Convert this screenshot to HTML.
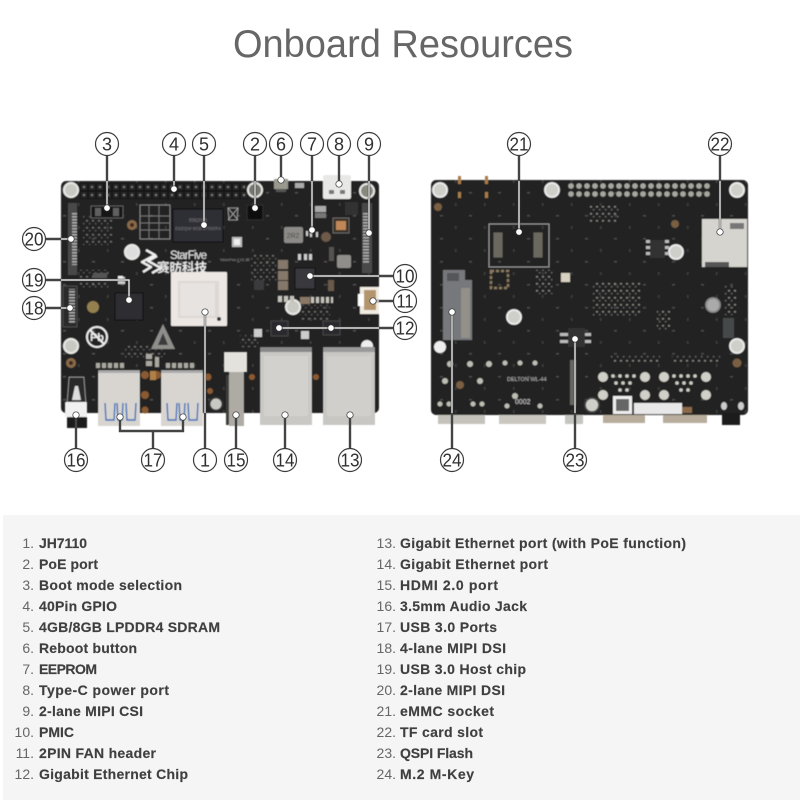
<!DOCTYPE html>
<html><head><meta charset="utf-8"><title>Onboard Resources</title>
<style>
html,body{margin:0;padding:0;background:#fff;width:800px;height:800px;overflow:hidden}
svg{display:block}
.n{font:18px "Liberation Sans",sans-serif;fill:#2f2f2f;text-anchor:middle}
.li{font:14px "Liberation Sans",sans-serif}
.li .a{fill:#666;text-anchor:end}
.li .b{fill:#3f3f3f;font-weight:bold;stroke:#3f3f3f;stroke-width:.15}
</style></head><body>
<svg width="800" height="800" viewBox="0 0 800 800" xmlns="http://www.w3.org/2000/svg">
<defs>
<pattern id="pins" x="80" y="183" width="8" height="8" patternUnits="userSpaceOnUse"><rect width="8" height="8" fill="#151515"/><rect x="1" y="1" width="6" height="6" fill="#262626"/><rect x="3" y="3" width="2" height="2" fill="#777"/></pattern>
<pattern id="th" x="567" y="182" width="8" height="8" patternUnits="userSpaceOnUse"><circle cx="4" cy="4" r="2.8" fill="#a5a89e"/></pattern>
<pattern id="fpc" width="2.4" height="3" patternUnits="userSpaceOnUse"><rect width="2.4" height="1.6" fill="#aaa"/></pattern>
<pattern id="smd1" x="3" y="5" width="29" height="23" patternUnits="userSpaceOnUse"><rect x="2" y="3" width="3" height="1.5" fill="#6a6a66"/><rect x="17" y="14" width="1.5" height="3" fill="#55534f"/></pattern>
<pattern id="smd2" x="1" y="2" width="6" height="7" patternUnits="userSpaceOnUse"><rect x="1" y="1" width="2" height="1.6" fill="#a8a8a2"/><rect x="4" y="4" width="1.4" height="1.4" fill="#888"/></pattern>
<filter id="soft" x="-5%" y="-5%" width="110%" height="110%"><feGaussianBlur stdDeviation=".45"/></filter>
</defs>

<rect width="800" height="800" fill="#fff"/>
<rect x="3" y="515" width="797" height="285" fill="#f5f5f5"/>

<text x="403" y="57" font-family="Liberation Sans,sans-serif" font-size="39" fill="#666" text-anchor="middle" textLength="340" lengthAdjust="spacingAndGlyphs">Onboard Resources</text>

<!-- FRONT BOARD -->
<g filter="url(#soft)">
<rect x="61" y="181" width="318" height="232" rx="5" fill="#232223"/>
<rect x="61" y="181" width="318" height="232" rx="5" fill="url(#smd1)" opacity=".6"/>
<g fill="url(#smd2)" opacity=".55"><rect x="250" y="255" width="28" height="28"/><rect x="300" y="305" width="30" height="15"/><rect x="240" y="335" width="20" height="12"/><rect x="80" y="270" width="30" height="20"/><rect x="82" y="215" width="30" height="30"/><rect x="125" y="345" width="40" height="15"/></g>
<rect x="80" y="183" width="168" height="16" fill="url(#pins)"/>
<!-- mounting holes -->
<g fill="#c9c9c3" stroke="#e9e9e6" stroke-width="2">
<circle cx="71" cy="190" r="7"/><circle cx="255" cy="190" r="7" fill="#77776f"/><circle cx="367" cy="191" r="7" fill="#88887f"/>
<circle cx="132" cy="252" r="7" fill="#ddd"/><circle cx="293" cy="307" r="7"/><circle cx="71" cy="346" r="7"/>
<circle cx="216" cy="404" r="6.5" stroke="#333"/>
</g>
<circle cx="367" cy="346" r="6" fill="#eee"/>
<circle cx="132" cy="225" r="5" fill="#8a6a48"/><circle cx="132" cy="225" r="2" fill="#3a2c20"/>
<circle cx="71" cy="363" r="5" fill="#8a6a48"/><circle cx="71" cy="363" r="2" fill="#3a2c20"/>
<circle cx="326" cy="237" r="5" fill="#6d5a48"/><circle cx="93" cy="307" r="6" fill="#94804f"/>
<!-- silk / boot -->
<rect x="91" y="206" width="32" height="12" fill="#191919" stroke="#777" stroke-width=".7"/>
<rect x="95" y="208" width="6" height="8" fill="#aaa" opacity=".5"/><rect x="113" y="208" width="6" height="8" fill="#aaa" opacity=".5"/>
<rect x="140" y="205" width="30" height="34" fill="none" stroke="#9a9a9a" stroke-width=".8"/>
<path d="M140 216h30M140 223h30M140 230h30M149 205v34M159 205v34" stroke="#888" stroke-width=".7" fill="none"/>
<!-- RAM -->
<rect x="173" y="209" width="50" height="33" fill="#2f2f34" stroke="#111"/>
<text x="198" y="222" font-family="Liberation Sans,sans-serif" font-size="6" fill="#77777b" text-anchor="middle">micron</text>
<text x="198" y="230" font-family="Liberation Sans,sans-serif" font-size="4.5" fill="#77777b" text-anchor="middle">D9ZQW 8GB LPDDR4</text>
<!-- small icons -->
<path d="M228 208h10l-1 12h-8zM228 208l10 12M238 208l-10 12" fill="none" stroke="#aaa" stroke-width=".8"/>
<rect x="232" y="237" width="10" height="10" fill="#bbb"/><rect x="234" y="239" width="6" height="6" fill="#eee"/>
<rect x="247" y="205" width="16" height="15" fill="#111" stroke="#333"/>
<!-- logo -->
<path d="M146 250l9 5-13 7 9 5-8 5M157 256l-9 5 13 7-9 5" fill="none" stroke="#f0f0f0" stroke-width="2.4" stroke-linejoin="round"/>
<text x="170" y="259" font-family="Liberation Sans,sans-serif" font-size="11.5" fill="#e8e8e8" textLength="37">StarFive</text>
<text x="157" y="272" font-family="Liberation Sans,'Noto Sans CJK SC',sans-serif" font-weight="bold" font-size="12.5" fill="#e8e8e8" textLength="50">赛昉科技</text>
<text x="220" y="261" font-family="Liberation Sans,sans-serif" font-size="3.5" fill="#999">VisionFive 2  V1.3B</text>
<!-- CPU -->
<rect x="171" y="272" width="56" height="54" rx="1" fill="#ece7e3"/>
<rect x="178" y="281" width="41" height="37" fill="#dcd8d4"/><rect x="180" y="283" width="35" height="33" fill="#e6e3e0"/>
<circle cx="219" cy="319" r="2" fill="#333"/>
<!-- FPC left -->
<rect x="68" y="203" width="9" height="72" fill="#4a4a4a"/><rect x="72" y="213" width="5" height="52" fill="url(#fpc)"/>
<rect x="63" y="286" width="14" height="41" fill="#2c2c2c" stroke="#555" stroke-width=".8"/><rect x="69" y="289" width="6" height="35" fill="url(#fpc)"/>
<!-- right FPC -->
<rect x="362" y="203" width="10" height="70" fill="#4a4a4a"/><rect x="363" y="212" width="6" height="52" fill="url(#fpc)"/>
<rect x="345" y="202" width="13" height="13" fill="#333"/>
<!-- USB chip etc -->
<rect x="115" y="293" width="28" height="27" fill="#2d2d30" stroke="#111"/>
<rect x="118" y="277" width="7" height="7" fill="#ccc"/>
<rect x="295" y="268" width="20" height="21" fill="#38383c" stroke="#111"/>
<rect x="254" y="280" width="10" height="10" fill="#3a3a3c"/>
<rect x="284" y="227" width="19" height="16" rx="2" fill="#8d8b87"/>
<text x="293" y="238" font-family="Liberation Sans,sans-serif" font-size="7" fill="#444" text-anchor="middle">2R2</text>
<rect x="337" y="255" width="14" height="13" rx="2" fill="#908e8a"/>
<rect x="333" y="218" width="16" height="15" fill="#3a3028" stroke="#666"/><rect x="336" y="221" width="10" height="9" fill="#c08858"/>
<path d="M278 260h10v9h-10zM278 271h10v9h-10zM278 281h10v9h-10z" fill="#85786a"/>
<rect x="300" y="297" width="10" height="7" fill="#8a7866"/>
<path d="M278 296h4v6h-4zM284 296h4v6h-4zM290 296h4v6h-4zM311 297h3v6h-3zM316 297h3v6h-3zM321 297h3v6h-3zM326 297h3v6h-3zM331 297h2v6h-2z" fill="#c4c2bb"/>
<path d="M298 254h3v6h-3zM304 254h3v6h-3zM309 254h3v6h-3zM310 232h2v5h-2zM316 232h2v5h-2zM306 231h2v5h-2z" fill="#ccc"/>
<rect x="315" y="206" width="11" height="6" fill="#aaa"/><rect x="315" y="213" width="11" height="5" fill="#777"/>
<rect x="329" y="247" width="5" height="14" fill="#55534f"/><rect x="328" y="280" width="6" height="11" fill="#6a5a4a"/>
<rect x="271" y="321" width="17" height="15" fill="#2a2a2d" stroke="#444"/><rect x="323" y="321" width="17" height="14" fill="#2a2a2d" stroke="#444"/>
<rect x="254" y="329" width="8" height="8" fill="#ccc"/><rect x="301" y="331" width="8" height="8" fill="#ccc"/>
<rect x="118" y="276" width="5" height="5" fill="#eee"/>
<rect x="93" y="273" width="14" height="5" fill="#555"/>
<circle cx="97" cy="337" r="10" fill="none" stroke="#ececec" stroke-width="2"/><path d="M90 330l14 14" stroke="#ececec" stroke-width="2"/>
<text x="97" y="341" font-family="Liberation Sans,sans-serif" font-weight="bold" font-size="11" fill="#ececec" text-anchor="middle">Pb</text>
<path d="M163 324l12 25h-24z" fill="#8e8e8a"/><path d="M163 333l5 12h-10z" fill="#3a3a3a"/>
<!-- fan -->
<rect x="360" y="287" width="19" height="27" fill="#f1ece2"/><rect x="364" y="290" width="12" height="20" fill="#b4946c"/><rect x="358" y="294" width="6" height="12" fill="#fff"/>
<!-- type C / button -->
<rect x="323" y="175" width="28" height="24" rx="2" fill="#e8e8e6"/><rect x="329" y="190" width="5" height="4" fill="#777"/><rect x="340" y="190" width="5" height="4" fill="#777"/>
<rect x="274" y="179" width="14" height="10" fill="#99998f"/><rect x="276" y="189" width="10" height="3" fill="#555"/>
<rect x="295" y="183" width="9" height="5" fill="#aaa"/>
<!-- copper pads -->
<g fill="#8a5a30"><circle cx="145" cy="375" r="4"/><circle cx="145" cy="395" r="4"/><circle cx="157" cy="375" r="4"/><circle cx="145" cy="410" r="3.5"/><circle cx="208" cy="377" r="3.5"/><circle cx="210" cy="391" r="3"/><circle cx="252" cy="377" r="3"/><circle cx="316" cy="377" r="3"/></g>
<rect x="150" y="371" width="6" height="9" fill="#b08048"/>
<path d="M96 363h4v5h-4zM102 363h4v5h-4zM108 363h4v5h-4zM114 363h4v5h-4zM120 363h4v5h-4zM166 363h4v5h-4zM172 363h4v5h-4zM178 363h4v5h-4zM184 363h4v5h-4zM190 363h4v5h-4zM146 354h6v5h-6zM146 361h6v5h-6zM155 357h4v10h-4z" fill="#a8a8a0"/>
</g>
<!-- connectors overhanging -->
<g filter="url(#soft)">
<rect x="98" y="370" width="42" height="56" fill="#d8d5d1"/><rect x="98" y="370" width="42" height="3" fill="#aaa"/><rect x="161" y="370" width="42" height="56" fill="#d8d5d1"/><rect x="161" y="370" width="42" height="3" fill="#aaa"/>
<path d="M105 403l1 17h8l1-17M117 403l1 17h4l1-17M126 403l1 17h8l1-17M167 403l1 17h8l1-17M179 403l1 17h4l1-17M188 403l1 17h8l1-17" fill="none" stroke="#3b6fb8" stroke-width="1.4"/>
<rect x="224" y="352" width="23" height="20" fill="#e4e2dc"/><rect x="229" y="372" width="15" height="54" fill="#aeaba5"/><rect x="226" y="375" width="3" height="50" fill="#3d3d3a"/>
<rect x="260" y="347" width="52" height="78" fill="#c9c8c5"/><rect x="260" y="347" width="52" height="5" fill="#888"/><rect x="264" y="356" width="44" height="60" fill="#d2d1ce"/>
<rect x="323" y="347" width="52" height="78" fill="#c8c7c3"/><rect x="323" y="347" width="52" height="5" fill="#999"/><rect x="327" y="356" width="44" height="60" fill="#d0cfcc"/>
<rect x="67" y="416" width="20" height="12" fill="#1a1a1a"/><path d="M69 377h15l2 26H67z" fill="#2a2a2a" stroke="#999" stroke-width="1"/><path d="M72 400l3-14h3l3 14z" fill="#ddd"/><rect x="65" y="402" width="22" height="15" fill="#f0f0f0"/>
</g>

<!-- BACK BOARD -->
<g filter="url(#soft)">
<rect x="431" y="180" width="317" height="235" rx="5" fill="#232223"/>
<rect x="431" y="180" width="317" height="235" rx="5" fill="url(#smd1)" opacity=".55"/>
<g fill="url(#smd2)" opacity=".7"><rect x="592" y="283" width="48" height="35"/><rect x="657" y="310" width="13" height="20"/><rect x="610" y="356" width="50" height="7"/><rect x="672" y="356" width="48" height="7"/><rect x="535" y="270" width="18" height="24"/><rect x="725" y="285" width="12" height="30"/><rect x="590" y="205" width="30" height="18"/></g>
<rect x="567" y="182" width="144" height="16" fill="url(#th)"/>
<g fill="#cfcfca" stroke="#eee" stroke-width="1.8">
<circle cx="440" cy="190" r="7"/><circle cx="552" cy="190" r="7"/><circle cx="737" cy="190" r="7"/>
<circle cx="676" cy="252" r="7"/><circle cx="514" cy="317" r="7"/><circle cx="737" cy="346" r="7"/><circle cx="592" cy="405" r="7" stroke="#444"/>
<circle cx="713" cy="305" r="7" fill="#aaa" stroke="#888"/>
</g>
<circle cx="440" cy="347" r="6" fill="#eee"/>
<circle cx="438" cy="207" r="4" fill="#7a5f42"/><circle cx="675" cy="224" r="4" fill="#7a5f42"/><circle cx="737" cy="363" r="4.5" fill="#7a5f42"/><circle cx="460" cy="385" r="4" fill="#7a5f42"/>
<path d="M458 176h3v8h-3zM485 176h3v8h-3zM458 192h3v6h-3zM485 192h3v6h-3z" fill="#a87c4a"/>
<rect x="489" y="224" width="60" height="43" fill="none" stroke="#999" stroke-width="1"/>
<rect x="493" y="232" width="10" height="26" fill="#6b675f" stroke="#222"/><rect x="533" y="232" width="10" height="26" fill="#6b675f" stroke="#222"/>
<rect x="702" y="219" width="45" height="48" fill="#d6d4cf"/><rect x="705" y="262" width="24" height="5" fill="#555"/><rect x="730" y="223" width="14" height="6" fill="#777"/>
<rect x="443" y="270" width="29" height="70" fill="#77787b"/><rect x="461" y="288" width="9" height="50" fill="#93908a"/><rect x="447" y="273" width="12" height="8" fill="#55565a"/><rect x="465" y="270" width="7" height="10" fill="#222"/>
<rect x="491" y="271" width="17" height="17" fill="none" stroke="#8a7a60" stroke-width="2.5" stroke-dasharray="3 2"/>
<rect x="561" y="273" width="9" height="9" fill="#d8d0c0"/>
<rect x="650" y="240" width="15" height="18" fill="#333"/>
<path d="M650 240h-4v3h4zM650 246h-4v3h4zM650 252h-4v3h4zM665 240h4v3h-4zM665 246h4v3h-4zM665 252h4v3h-4zM568 340h-8v3h8zM568 333h-8v3h8zM585 333h6v3h-6zM585 340h6v3h-6z" fill="#bbb"/>
<rect x="568" y="328" width="17" height="19" fill="#333"/>
<path d="M570 360h6v45h-6z" fill="#66665f"/>
<rect x="723" y="318" width="11" height="20" fill="#45484a"/>
<g fill="#d0d0c8"><circle cx="603" cy="377" r="5"/><circle cx="645" cy="377" r="5"/><circle cx="603" cy="395" r="5"/><circle cx="645" cy="395" r="5"/><circle cx="664" cy="377" r="5"/><circle cx="706" cy="377" r="5"/><circle cx="664" cy="395" r="5"/><circle cx="706" cy="395" r="5"/></g>
<g fill="#bdbdb5"><circle cx="445" cy="381" r="3"/><circle cx="450" cy="364" r="3"/><circle cx="470" cy="364" r="3"/><circle cx="489" cy="364" r="3"/><circle cx="480" cy="381" r="3"/><circle cx="505" cy="363" r="2.5"/><circle cx="520" cy="363" r="2.5"/><circle cx="535" cy="363" r="2.5"/><circle cx="440" cy="404" r="2.5"/><circle cx="449" cy="404" r="2.5"/><circle cx="473" cy="404" r="2.5"/><circle cx="482" cy="404" r="2.5"/><circle cx="515" cy="396" r="3"/><circle cx="507" cy="406" r="2.5"/><circle cx="540" cy="406" r="2.5"/></g>
<g fill="#cdcdc5"><circle cx="613" cy="376" r="1.8"/><circle cx="620" cy="376" r="1.8"/><circle cx="627" cy="376" r="1.8"/><circle cx="634" cy="376" r="1.8"/><circle cx="616" cy="383" r="1.8"/><circle cx="623" cy="383" r="1.8"/><circle cx="630" cy="383" r="1.8"/><circle cx="620" cy="390" r="1.8"/><circle cx="627" cy="390" r="1.8"/><circle cx="674" cy="376" r="1.8"/><circle cx="681" cy="376" r="1.8"/><circle cx="688" cy="376" r="1.8"/><circle cx="695" cy="376" r="1.8"/><circle cx="677" cy="383" r="1.8"/><circle cx="684" cy="383" r="1.8"/><circle cx="691" cy="383" r="1.8"/><circle cx="681" cy="390" r="1.8"/><circle cx="688" cy="390" r="1.8"/></g>
<text x="507" y="381" font-family="Liberation Sans,sans-serif" font-size="5.5" fill="#bbb">DELTON WL-44</text>
<text x="515" y="404" font-family="Liberation Sans,sans-serif" font-size="7" fill="#ccc">0002</text>
<rect x="613" y="396" width="19" height="18" fill="#eee"/><rect x="616" y="399" width="13" height="12" fill="#666"/>
<rect x="634" y="403" width="48" height="11" fill="#e8e8e8"/>
<rect x="682" y="407" width="10" height="6" fill="#8a6a48"/>
<rect x="438" y="415" width="47" height="9" fill="#c4c2bb"/><rect x="499" y="415" width="47" height="9" fill="#c9c7c0"/><rect x="565" y="415" width="18" height="9" fill="#c4c4c0"/>
<rect x="603" y="415" width="42" height="8" fill="#b8ad9d"/><rect x="663" y="415" width="44" height="8" fill="#b8ad9d"/><rect x="722" y="413" width="18" height="12" fill="#1a1a1a"/>
<ellipse cx="724" cy="406" rx="3" ry="4" fill="#ccc"/><ellipse cx="741" cy="406" rx="3" ry="4" fill="#ccc"/>
</g>

<!-- LEADER LINES -->
<g fill="none" stroke="#444" stroke-width="2.4">
<path d="M107 156V208M174 156V189M204 156V225M255 156V208M281 156V180M312 156V230M339 156V184M369 156V233M46 239H71M46 280H129V300M46 308H70M393 276H310M393 301H373M393 328H279M205 448V312M236 448V415M285 448V415M350 448V415M76 448V415M153 448V431M120 417V431H183V417M519 156V232M720 156V232M452 448V312M575 448V339"/>
</g>
<g fill="none" stroke="#f5f5f5" stroke-width="1.2">
<path d="M107 181V208M174 181V189M204 181V225M255 181V208M312 181V230M339 181V184M369 181V233M61 239H71M61 280H129V300M61 308H70M379 276H310M379 301H373M379 328H279M205 413V312M519 181V232M720 181V232M452 413V312M575 413V339"/>
</g>
<g fill="#fff" stroke="#333" stroke-width=".7">
<circle cx="107" cy="208" r="3.2"/><circle cx="174" cy="189" r="3.2"/><circle cx="204" cy="225" r="3.2"/><circle cx="255" cy="208" r="3.2"/><circle cx="281" cy="180" r="3.2"/><circle cx="312" cy="230" r="3.2"/><circle cx="339" cy="184" r="3.2"/><circle cx="369" cy="233" r="3.2"/><circle cx="71" cy="239" r="3.2"/><circle cx="129" cy="300" r="3.2"/><circle cx="70" cy="308" r="3.2"/><circle cx="310" cy="276" r="3.2"/><circle cx="373" cy="301" r="3.2"/><circle cx="279" cy="328" r="3.2"/><circle cx="331" cy="328" r="3.2"/><circle cx="205" cy="312" r="3.2"/><circle cx="236" cy="415" r="3.2"/><circle cx="285" cy="415" r="3.2"/><circle cx="350" cy="415" r="3.2"/><circle cx="76" cy="415" r="3.2"/><circle cx="120" cy="417" r="3.2"/><circle cx="183" cy="417" r="3.2"/><circle cx="519" cy="232" r="3.2"/><circle cx="720" cy="232" r="3.2"/><circle cx="452" cy="312" r="3.2"/><circle cx="575" cy="339" r="3.2"/>
</g>

<!-- CALLOUTS -->
<g fill="#fff" stroke="#3a3a3a" stroke-width="1.2">
<circle cx="107" cy="144" r="11.5"/><circle cx="174" cy="144" r="11.5"/><circle cx="204" cy="144" r="11.5"/><circle cx="255" cy="144" r="11.5"/><circle cx="281" cy="144" r="11.5"/><circle cx="312" cy="144" r="11.5"/><circle cx="339" cy="144" r="11.5"/><circle cx="369" cy="144" r="11.5"/>
<circle cx="34" cy="239" r="11.5"/><circle cx="34" cy="280" r="11.5"/><circle cx="34" cy="308" r="11.5"/>
<circle cx="405" cy="276" r="11.5"/><circle cx="405" cy="301" r="11.5"/><circle cx="405" cy="328" r="11.5"/>
<circle cx="205" cy="460" r="11.5"/><circle cx="236" cy="460" r="11.5"/><circle cx="285" cy="460" r="11.5"/><circle cx="350" cy="460" r="11.5"/><circle cx="76" cy="460" r="11.5"/><circle cx="153" cy="460" r="11.5"/>
<circle cx="519" cy="144" r="11.5"/><circle cx="720" cy="144" r="11.5"/><circle cx="452" cy="460" r="11.5"/><circle cx="575" cy="460" r="11.5"/>
</g>
<g>
<text class="n" x="107" y="150.5">3</text><text class="n" x="174" y="150.5">4</text><text class="n" x="204" y="150.5">5</text><text class="n" x="255" y="150.5">2</text><text class="n" x="281" y="150.5">6</text><text class="n" x="312" y="150.5">7</text><text class="n" x="339" y="150.5">8</text><text class="n" x="369" y="150.5">9</text>
<text class="n" x="34" y="245.5" textLength="19" lengthAdjust="spacingAndGlyphs">20</text><text class="n" x="34" y="286.5" textLength="19" lengthAdjust="spacingAndGlyphs">19</text><text class="n" x="34" y="314.5" textLength="19" lengthAdjust="spacingAndGlyphs">18</text>
<text class="n" x="405" y="282.5" textLength="19" lengthAdjust="spacingAndGlyphs">10</text><text class="n" x="405" y="307.5" textLength="17" lengthAdjust="spacingAndGlyphs">11</text><text class="n" x="405" y="334.5" textLength="19" lengthAdjust="spacingAndGlyphs">12</text>
<text class="n" x="205" y="466.5">1</text><text class="n" x="236" y="466.5" textLength="19" lengthAdjust="spacingAndGlyphs">15</text><text class="n" x="285" y="466.5" textLength="19" lengthAdjust="spacingAndGlyphs">14</text><text class="n" x="350" y="466.5" textLength="19" lengthAdjust="spacingAndGlyphs">13</text><text class="n" x="76" y="466.5" textLength="19" lengthAdjust="spacingAndGlyphs">16</text><text class="n" x="153" y="466.5" textLength="19" lengthAdjust="spacingAndGlyphs">17</text>
<text class="n" x="519" y="150.5" textLength="19" lengthAdjust="spacingAndGlyphs">21</text><text class="n" x="720" y="150.5" textLength="19" lengthAdjust="spacingAndGlyphs">22</text><text class="n" x="452" y="466.5" textLength="19" lengthAdjust="spacingAndGlyphs">24</text><text class="n" x="575" y="466.5" textLength="19" lengthAdjust="spacingAndGlyphs">23</text>
</g>

<!-- LIST -->
<g class="li">
<text class="a" x="34" y="548">1.</text><text class="b" x="39" y="548" textLength="48">JH7110</text>
<text class="a" x="34" y="569">2.</text><text class="b" x="39" y="569" textLength="59">PoE port</text>
<text class="a" x="34" y="590">3.</text><text class="b" x="39" y="590" textLength="143">Boot mode selection</text>
<text class="a" x="34" y="611">4.</text><text class="b" x="39" y="611" textLength="78">40Pin GPIO</text>
<text class="a" x="34" y="632">5.</text><text class="b" x="39" y="632" textLength="181">4GB/8GB LPDDR4 SDRAM</text>
<text class="a" x="34" y="653">6.</text><text class="b" x="39" y="653" textLength="98">Reboot button</text>
<text class="a" x="34" y="674">7.</text><text class="b" x="39" y="674" textLength="58">EEPROM</text>
<text class="a" x="34" y="695">8.</text><text class="b" x="39" y="695" textLength="130">Type-C power port</text>
<text class="a" x="34" y="716">9.</text><text class="b" x="39" y="716" textLength="104">2-lane MIPI CSI</text>
<text class="a" x="34" y="737">10.</text><text class="b" x="39" y="737" textLength="35">PMIC</text>
<text class="a" x="34" y="758">11.</text><text class="b" x="39" y="758" textLength="117">2PIN FAN header</text>
<text class="a" x="34" y="779">12.</text><text class="b" x="39" y="779" textLength="149">Gigabit Ethernet Chip</text>
<text class="a" x="396" y="548">13.</text><text class="b" x="400" y="548" textLength="286">Gigabit Ethernet port (with PoE function)</text>
<text class="a" x="396" y="569">14.</text><text class="b" x="400" y="569" textLength="148">Gigabit Ethernet port</text>
<text class="a" x="396" y="590">15.</text><text class="b" x="400" y="590" textLength="98">HDMI 2.0 port</text>
<text class="a" x="396" y="611">16.</text><text class="b" x="400" y="611" textLength="127">3.5mm Audio Jack</text>
<text class="a" x="396" y="632">17.</text><text class="b" x="400" y="632" textLength="97">USB 3.0 Ports</text>
<text class="a" x="396" y="653">18.</text><text class="b" x="400" y="653" textLength="106">4-lane MIPI DSI</text>
<text class="a" x="396" y="674">19.</text><text class="b" x="400" y="674" textLength="126">USB 3.0 Host chip</text>
<text class="a" x="396" y="695">20.</text><text class="b" x="400" y="695" textLength="105">2-lane MIPI DSI</text>
<text class="a" x="396" y="716">21.</text><text class="b" x="400" y="716" textLength="94">eMMC socket</text>
<text class="a" x="396" y="737">22.</text><text class="b" x="400" y="737" textLength="83">TF card slot</text>
<text class="a" x="396" y="758">23.</text><text class="b" x="400" y="758" textLength="73">QSPI Flash</text>
<text class="a" x="396" y="779">24.</text><text class="b" x="400" y="779" textLength="74">M.2 M-Key</text>
</g>
</svg>
</body></html>
